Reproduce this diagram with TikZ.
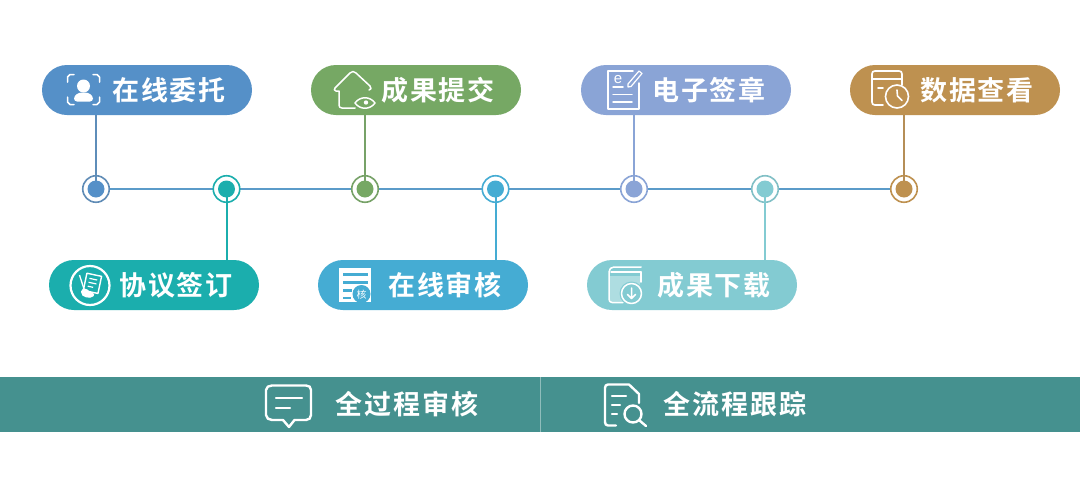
\documentclass[tikz,border=0pt]{standalone}
\usepackage{fontspec}
\newfontfamily\pillfont[LetterSpace=7]{Noto Sans CJK SC Bold}
\newfontfamily\barfont[LetterSpace=8]{Noto Sans CJK SC Bold}
\definecolor{cA}{HTML}{5590C8}
\definecolor{cB}{HTML}{1BAEAD}
\definecolor{cC}{HTML}{76A864}
\definecolor{cD}{HTML}{45ACD3}
\definecolor{cE}{HTML}{8AA4D6}
\definecolor{cF}{HTML}{83CBD2}
\definecolor{cG}{HTML}{BE9150}
\definecolor{cBar}{HTML}{45918F}
\definecolor{cLine}{HTML}{5B9BC9}
\tikzset{
  x=1pt,y=-1pt,
  pill/.style={rounded corners=25pt,minimum width=210pt,minimum height=50pt,inner sep=0pt,draw=none},
  pilltext/.style={text=white,font=\pillfont\fontsize{27}{27}\selectfont,inner sep=0pt,anchor=west},
  bartext/.style={text=white,font=\barfont\fontsize{27}{27}\selectfont,inner sep=0pt,anchor=west},
  ic/.style={draw=white,line width=1.8pt,line cap=round,line join=round},
  outer/.style={circle,fill=white,line width=1.6pt,minimum size=26.5pt,inner sep=0pt},
  inner/.style={circle,minimum size=17pt,inner sep=0pt},
  conn/.style={line width=1.6pt},
  connb/.style={line width=2pt},
}
\begin{document}
\begin{tikzpicture}
\useasboundingbox (0,0) rectangle (1080,477);
\fill[white] (0,0) rectangle (1080,477);
% pills
\node[pill,fill=cA] (p1) at (147,90) {};
\node[pill,fill=cC] (p3) at (416,90) {};
\node[pill,fill=cE] (p5) at (686,90) {};
\node[pill,fill=cG] (p7) at (955,90) {};
\node[pill,fill=cB] (p2) at (154,285) {};
\node[pill,fill=cD] (p4) at (423,285) {};
\node[pill,fill=cF] (p6) at (692,285) {};
% timeline anchors
\coordinate (n1) at (96,189);
\coordinate (n2) at (226.5,189);
\coordinate (n3) at (365,189);
\coordinate (n4) at (495.5,189);
\coordinate (n5) at (634,189);
\coordinate (n6) at (765,189);
\coordinate (n7) at (904,189);
\draw[cLine,conn] (n1) -- (n7);
% dots
\node[outer,draw=cA!75!gray] (o1) at (n1) {};
\node[outer,draw=cB] (o2) at (n2) {};
\node[outer,draw=cC!85!gray] (o3) at (n3) {};
\node[outer,draw=cD] (o4) at (n4) {};
\node[outer,draw=cE] (o5) at (n5) {};
\node[outer,draw=cF!85!gray] (o6) at (n6) {};
\node[outer,draw=cG] (o7) at (n7) {};
\draw[cA!80!gray,conn] (n1) -- (n1 |- p1.south);
\draw[cC!85!gray,conn] (n3) -- (n3 |- p3.south);
\draw[cE,conn] (n5) -- (n5 |- p5.south);
\draw[cG!85!gray,conn] (n7) -- (n7 |- p7.south);
\draw[cB,connb] (n2) -- (n2 |- p2.north);
\draw[cD,connb] (n4) -- (n4 |- p4.north);
\draw[cF,connb] (n6) -- (n6 |- p6.north);
\node[inner,fill=cA] (i1) at (n1) {};
\node[inner,fill=cB] (i2) at (n2) {};
\node[inner,fill=cC] (i3) at (n3) {};
\node[inner,fill=cD] (i4) at (n4) {};
\node[inner,fill=cE] (i5) at (n5) {};
\node[inner,fill=cF] (i6) at (n6) {};
\node[inner,fill=cG] (i7) at (n7) {};
% texts
\node[pilltext] (t1) at (112,90) {在线委托};
\node[pilltext] (t3) at (381,90) {成果提交};
\node[pilltext] (t5) at (652,90) {电子签章};
\node[pilltext] (t7) at (920,90) {数据查看};
\node[pilltext] (t2) at (119,285) {协议签订};
\node[pilltext] (t4) at (388,285) {在线审核};
\node[pilltext] (t6) at (657,285) {成果下载};
% icon 1
\draw[ic,line width=1.5pt] (74,74.5) -- (70,74.5) -- (67.5,77) -- (67.5,82);
\draw[ic,line width=1.5pt] (93,74.5) -- (97,74.5) -- (99.5,77) -- (99.5,82);
\draw[ic,line width=1.5pt] (67.5,97) -- (67.5,102) -- (70,104.5) -- (74,104.5);
\draw[ic,line width=1.5pt] (99.5,97) -- (99.5,102) -- (97,104.5) -- (93,104.5);
\fill[white] (83.5,86) circle[radius=6.5];
\fill[white,rounded corners=3pt] (74,101.5) -- (74,96) -- (79,92.5) -- (88,92.5) -- (93,96) -- (93,101.5) -- cycle;
% icon 3 house and eye
\draw[ic,line width=1.5pt] (355,108) -- (342,108) .. controls (340,108) and (339,107) .. (339,105) -- (339,91) -- (336,91) .. controls (334,91) and (334,89) .. (335,88) -- (350,73) .. controls (352,71) and (354,71) .. (356,73) -- (370,86) .. controls (372,88) and (371,90) .. (369,90);
\draw[ic,line width=1.5pt] (355,103) .. controls (360,96) and (370,96) .. (375,103) .. controls (370,110) and (360,110) .. (355,103) -- cycle;
\fill[white] (366,102.5) circle[radius=2.2];
% icon 5 doc and pen
\draw[ic,line width=1.5pt] (633,71) -- (608,71) -- (608,109) -- (639,109) -- (639,83);
\draw[ic,line width=1.5pt] (613,87) -- (623,87);
\draw[ic,line width=1.5pt] (613,94.5) -- (632,94.5);
\draw[ic,line width=1.5pt] (613,102) -- (632,102);
\node[text=white,font=\fontspec{Liberation Sans}\fontsize{15}{15}\selectfont,inner sep=0pt] (ie) at (618,80) {e};
\draw[white,line width=1.2pt,line join=round] (628,84) -- (639,71) -- (642,73.5) -- (631,86.5) -- (628,87) -- cycle;
% icon 7 window and clock
\draw[ic,line width=1.6pt] (883,105) -- (875,105) .. controls (873,105) and (872,104) .. (872,102) -- (872,74) .. controls (872,72) and (873,71) .. (875,71) -- (899,71) .. controls (901,71) and (902,72) .. (902,74) -- (902,85);
\draw[ic,line width=1.6pt] (872,79) -- (902,79);
\draw[ic,line width=1.6pt] (878,88) -- (883,88);
\draw[ic,line width=1.6pt] (897,96.5) circle[radius=11.5];
\draw[ic,line width=1.6pt] (897,90) -- (897.5,96) -- (902,100.5);
% icon 2
\draw[white,line width=2.2pt] (90,285.5) circle[radius=19.5];
\draw[white,line width=1.4pt,line join=round,rotate around={-12:(92,283)}] (85,274.5) rectangle (100,292);
\draw[white,line width=1.2pt,rotate around={-12:(92,283)}] (88.5,279) -- (96.5,279) (88.5,283) -- (96.5,283) (88.5,287) -- (94,287);
\draw[white,line width=1.3pt] (79.5,275) -- (84,289);
\fill[white,rounded corners=2pt] (81,289.5) -- (86,288) -- (90,292) -- (95,294) -- (92,298) -- (84,297) -- (81,294) -- cycle;
% icon 4
\fill[white] (338.5,268) rectangle (371,302);
\fill[cD] (342.5,273) rectangle (367.5,275.5);
\fill[cD] (342.5,281) rectangle (367.5,283.5);
\fill[cD] (342.5,289) rectangle (352,291.5);
\fill[cD] (342.5,297) rectangle (351,299);
\fill[cD] (361.5,294) circle[radius=9];
\node[text=white,font=\fontspec{Noto Sans CJK SC}\fontsize{10}{10}\selectfont,inner sep=0pt] (ih) at (361.5,294.5) {核};
% icon 6
\fill[white,opacity=.35] (610,276) rectangle (640,302);
\draw[ic,line width=1.5pt] (623,302.5) -- (612,302.5) .. controls (610,302.5) and (609,301) .. (609,299) -- (609,272) .. controls (609,269) and (611,267) .. (614,267) -- (641,267);
\draw[ic,line width=1.5pt] (611,272) -- (641,272);
\draw[ic,line width=1.5pt] (641,272) -- (641,282);
\fill[cF] (631.5,293.5) circle[radius=12];
\draw[ic,line width=1.5pt] (631.5,293.5) circle[radius=10];
\draw[ic,line width=1.5pt] (631.5,288) -- (631.5,298.5) (627.5,294.5) -- (631.5,298.5) -- (635.5,294.5);
% bottom bar
\node[fill=cBar,minimum width=1080pt,minimum height=55pt,inner sep=0pt] (bar) at (540,404.5) {};
\coordinate (st) at (540,377);
\coordinate (sb) at (540,432);
\draw[white,opacity=.4,line width=1pt] (st) -- (sb);
\node[bartext] (b1) at (335,404.5) {全过程审核};
\node[bartext] (b2) at (663,404.5) {全流程跟踪};
% bar icons
\draw[ic,line width=2.4pt] (272,385.5) -- (306,385.5) .. controls (309,385.5) and (311,387) .. (311,390) -- (311,415) .. controls (311,418) and (309,420) .. (306,420) -- (294.5,420) -- (289,427) -- (283,420) -- (272,420) .. controls (269,420) and (266,418) .. (266,415) -- (266,390) .. controls (266,387) and (269,385.5) .. (272,385.5) -- cycle;
\draw[ic,line width=2.4pt] (276,398) -- (302,398);
\draw[ic,line width=2.4pt] (276,408) -- (290,408);
\draw[ic,line width=2.4pt] (616,425.5) -- (608,425.5) .. controls (606,425.5) and (605,424) .. (605,422) -- (605,388) .. controls (605,386) and (606,384.5) .. (608,384.5) -- (629,384.5) -- (639,394) -- (639,403);
\draw[ic,line width=2.4pt] (612,396) -- (626,396);
\draw[ic,line width=2.4pt] (612,405) -- (620,405);
\draw[ic,line width=2.4pt] (612,414) -- (617,414);
\draw[ic,line width=2.4pt] (633,414) circle[radius=8.5];
\draw[ic,line width=2.4pt] (639.5,420.5) -- (646,426);
\end{tikzpicture}
\end{document}
